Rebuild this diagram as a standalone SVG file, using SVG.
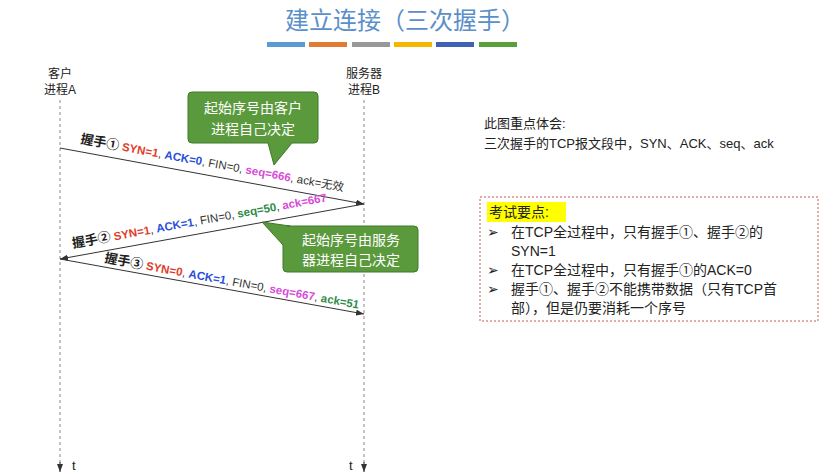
<svg xmlns="http://www.w3.org/2000/svg" width="840" height="474" viewBox="0 0 840 474">
<style>
text{font-family:"Liberation Sans","Noto Sans CJK SC",sans-serif}
.cjk{font-family:"Noto Sans CJK SC",sans-serif}
.life{stroke:#888;stroke-width:1;stroke-dasharray:3,3}
.msg{stroke:#333;stroke-width:1;fill:none}
.lbl{font-size:11.5px;fill:#333}
.r{fill:#e03c2a;font-weight:bold}.b{fill:#2a4fd6;font-weight:bold}.m{fill:#d84ad8;font-weight:bold}.g{fill:#2e8b4a;font-weight:bold}
.call{fill:#5a9a3c;stroke:#3f7a2a;stroke-width:1}
.ct{font-size:14px;fill:#fff;text-anchor:middle}
</style>
<defs>
<marker id="ah" markerWidth="8" markerHeight="6" refX="8" refY="3" orient="auto"><path d="M0,0 L8,3 L0,6 Z" fill="#333"/></marker>
</defs>
<rect width="840" height="474" fill="#fff"/>
<text x="405" y="29" text-anchor="middle" class="cjk" font-size="24" fill="#5b8fc9">建立连接（三次握手）</text>
<g>
<rect x="267" y="42" width="38" height="5" fill="#5b9bd5"/>
<rect x="309" y="42" width="38" height="5" fill="#e07a35"/>
<rect x="352" y="42" width="38" height="5" fill="#999"/>
<rect x="394" y="42" width="38" height="5" fill="#f5b800"/>
<rect x="436" y="42" width="38" height="5" fill="#3f62b5"/>
<rect x="479" y="42" width="38" height="5" fill="#5aa03c"/>
</g>
<g id="clientA">
<text x="60" y="78" text-anchor="middle" font-size="12" fill="#222">客户</text>
<text x="60" y="94" text-anchor="middle" font-size="12" fill="#222">进程A</text>
<line class="life" x1="60" y1="100" x2="60" y2="470"/>
<text x="72" y="470" font-size="13" fill="#222">t</text>
</g>
<g id="serverB">
<text x="364" y="78" text-anchor="middle" font-size="12" fill="#222">服务器</text>
<text x="364" y="94" text-anchor="middle" font-size="12" fill="#222">进程B</text>
<line class="life" x1="364" y1="100" x2="364" y2="470"/>
<text x="349" y="470" font-size="13" fill="#222">t</text>
</g>
<g id="connectors">
<line class="msg" x1="60" y1="148" x2="364" y2="204" marker-end="url(#ah)"/>
<line class="msg" x1="364" y1="204" x2="60" y2="259" marker-end="url(#ah)"/>
<line class="msg" x1="60" y1="259" x2="364" y2="314" marker-end="url(#ah)"/>
<line class="msg" x1="60" y1="462" x2="60" y2="472" marker-end="url(#ah)"/>
<line class="msg" x1="364" y1="462" x2="364" y2="472" marker-end="url(#ah)"/>
</g>
<g id="label1" transform="translate(80,143) rotate(10.4)">
<text class="lbl"><tspan font-size="13" font-weight="bold" fill="#222">握手①</tspan> <tspan class="r">SYN=1</tspan>, <tspan class="b">ACK=0</tspan>, FIN=0, <tspan class="m">seq=666</tspan>, ack=无效</text>
</g>
<g id="label2" transform="translate(73,248) rotate(-10.4)">
<text class="lbl"><tspan font-size="13" font-weight="bold" fill="#222">握手②</tspan> <tspan class="r">SYN=1</tspan>, <tspan class="b">ACK=1</tspan>, FIN=0, <tspan class="g">seq=50</tspan>, <tspan class="m">ack=667</tspan></text>
</g>
<g id="label3" transform="translate(104,262) rotate(10.4)">
<text class="lbl"><tspan font-size="13" font-weight="bold" fill="#222">握手③</tspan> <tspan class="r">SYN=0</tspan>, <tspan class="b">ACK=1</tspan>, FIN=0, <tspan class="m">seq=667</tspan>, <tspan class="g">ack=51</tspan></text>
</g>
<g id="callout1">
<path class="call" d="M192,92 H314 Q318,92 318,96 V139 Q318,143 314,143 H292 L274,165 L268,143 H192 Q188,143 188,139 V96 Q188,92 192,92 Z"/>
<text class="ct" x="253" y="113">起始序号由客户</text>
<text class="ct" x="253" y="134">进程自己决定</text>
</g>
<g id="callout2">
<path class="call" d="M287,226 H414 Q418,226 418,230 V268 Q418,272 414,272 H287 Q283,272 283,268 V245 L262,222 L290,226 Z"/>
<text class="ct" x="351" y="245">起始序号由服务</text>
<text class="ct" x="351" y="265">器进程自己决定</text>
</g>
<g id="note1">
<text x="484" y="128" font-size="13" fill="#222">此图重点体会:</text>
<text x="484" y="148" font-size="13" fill="#222">三次握手的TCP报文段中，SYN、ACK、seq、ack</text>
</g>
<g id="note2">
<rect x="480" y="197" width="338" height="124" fill="none" stroke="#c55" stroke-dasharray="2,2"/>
<rect x="487" y="202" width="79" height="20" fill="#ffff00"/>
<text x="489" y="217" font-size="14" fill="#222">考试要点:</text>
<g font-size="14" fill="#222">
<text x="487" y="237">➢</text><text x="511" y="237">在TCP全过程中，只有握手①、握手②的</text>
<text x="511" y="256">SYN=1</text>
<text x="487" y="275">➢</text><text x="511" y="275">在TCP全过程中，只有握手①的ACK=0</text>
<text x="487" y="294">➢</text><text x="511" y="294">握手①、握手②不能携带数据（只有TCP首</text>
<text x="511" y="313">部），但是仍要消耗一个序号</text>
</g>
</g>
</svg>
